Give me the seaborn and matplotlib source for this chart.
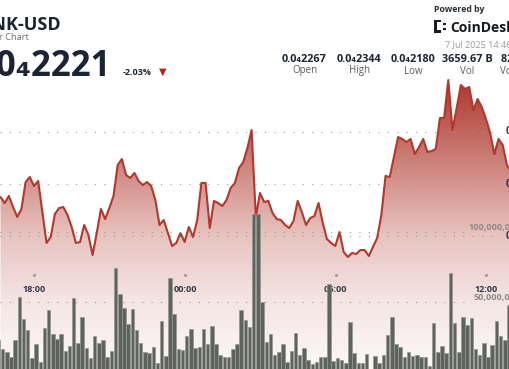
import numpy as np
import matplotlib
matplotlib.use("Agg")
import matplotlib.pyplot as plt
import matplotlib.transforms as mtransforms
from matplotlib.patches import Rectangle
import seaborn as sns

# price line, one point every 10 minutes (minutes counted from 18:00), in units of 1e-5 USD
line_start = -81
price = [
    2.2375, 2.2317, 2.2385, 2.2279, 2.2183, 2.2260, 2.2519, 2.2567, 2.2481, 2.2529,
    2.2231, 2.1933, 2.1990, 2.2212, 2.2269, 2.2279, 2.2202, 2.2087, 2.1933, 2.1942,
    2.2106, 2.2010, 2.1817, 2.2029, 2.2260, 2.2163, 2.2269, 2.2385, 2.2683, 2.2740,
    2.2587, 2.2558, 2.2606, 2.2529, 2.2490, 2.2519, 2.2481, 2.2346, 2.2106, 2.2154,
    2.2029, 2.1904, 2.1933, 2.2029, 2.1942, 2.2087, 2.1990, 2.2154, 2.2510, 2.2510,
    2.2077, 2.2337, 2.2317, 2.2288, 2.2346, 2.2462, 2.2510, 2.2654, 2.2712, 2.2846,
    2.3019, 2.2183, 2.2413, 2.2327, 2.2337, 2.2221, 2.2163, 2.2154, 2.2106, 2.2077,
    2.2144, 2.2337, 2.2231, 2.2106, 2.2173, 2.2192, 2.2317, 2.2125, 2.1971, 2.1933,
    2.1904, 2.2038, 2.1846, 2.1798, 2.1837, 2.1827, 2.1865, 2.1865, 2.1808, 2.1894,
    2.1981, 2.2202, 2.2577, 2.2567, 2.2760, 2.2952, 2.2933, 2.2904, 2.2933, 2.2788,
    2.2856, 2.2933, 2.2808, 2.2817, 2.2837, 2.3135, 2.3135, 2.3500, 2.3019, 2.3231,
    2.3452, 2.3413, 2.3433, 2.3212, 2.3317, 2.3240, 2.3125, 2.2990, 2.2788, 2.2933,
    2.2875, 2.2683, 2.2615,
]

# 10-minute volume bars, billions of BONK
bar_start = -86
volume = [
    22.9, 16.4, 14.3, 10.7, 22.9, 53.6, 37.9, 30.0, 10.0, 20.0,
    7.1, 31.4, 44.3, 27.1, 23.6, 27.1, 15.0, 18.6, 52.9, 20.7,
    39.3, 17.1, 10.0, 25.7, 20.7, 22.9, 10.7, 15.0, 74.3, 55.7,
    45.7, 34.3, 45.0, 30.0, 20.7, 14.3, 13.6, 17.9, 6.4, 36.4,
    11.4, 67.1, 41.4, 16.4, 15.7, 25.7, 30.7, 17.1, 17.9, 30.7,
    20.0, 32.9, 20.0, 12.1, 10.7, 10.7, 16.4, 20.0, 44.3, 37.1,
    32.1, 112.9, 112.9, 50.0, 21.4, 27.1, 12.1, 14.3, 20.0, 7.1,
    15.0, 27.9, 12.1, 17.1, 8.6, 5.7, 7.1, 10.7, 10.7, 62.9,
    7.9, 10.0, 8.6, 6.4, 35.7, 13.6, 6.4, 6.4, 12.9, 0.0,
    11.4, 6.4, 12.1, 26.4, 39.3, 20.0, 17.9, 10.7, 14.3, 11.4,
    12.1, 10.7, 10.7, 4.3, 35.0, 14.3, 18.6, 13.6, 70.7, 35.0,
    14.3, 39.3, 33.6, 38.6, 16.4, 12.1, 20.7, 10.7, 19.3, 36.4,
    25.7, 22.9, 47.9,
]

price_grid = [2.20, 2.25, 2.30]
price_grid_labels = ["0.0₄2200", "0.0₄2250", "0.0₄2300"]
vol_grid = [50, 100]
vol_grid_labels = ["50,000,000,000", "100,000,000,000"]
time_ticks = [0, 360, 720, 1080]
time_labels = ["18:00", "00:00", "06:00", "12:00"]
stat_values = ["0.0₄2267", "0.0₄2344", "0.0₄2180", "3659.67 B", "82.34 M"]
stat_names = ["Open", "High", "Low", "Vol", "Vol (USD)"]

line_t = line_start + 10 * np.arange(len(price))
bar_t = bar_start + 10 * np.arange(len(volume))

W, H = 510, 369
sns.set_theme(style="white")
fam = ["Open Sans", "DejaVu Sans"]
plt.rcParams["font.family"] = fam

fig = plt.figure(figsize=(W / 100, H / 100), dpi=100)
ax = fig.add_axes([0, 0, 1, 1])
ax2 = ax.twinx()

xlim = (-82.2, 1136.4)
ylim = (2.07212, 2.42692)
vlim = (2.14, 265.7)

# gradient fill under the price line
stops_px = [75, 130, 184, 236, 300, 369]
stops_rgb = np.array([(172, 52, 42), (192, 100, 92), (214, 150, 145),
                      (231, 196, 192), (244, 229, 228), (252, 248, 248)]) / 255
rows = np.arange(H)
grad = np.stack([np.interp(rows, stops_px, stops_rgb[:, c]) for c in range(3)], axis=-1)[:, None, :]
fb = ax.fill_between(line_t, price, ylim[0], facecolor="none", edgecolor="none")
img = ax.imshow(grad, extent=[xlim[0], xlim[1], ylim[0], ylim[1]], aspect="auto",
                origin="upper", zorder=1, interpolation="bilinear")
img.set_clip_path(fb.get_paths()[0], ax.transData)

for g in price_grid:
    ax.axhline(g, xmin=0, xmax=497 / W, color="#9c9c9c", lw=0.8, ls=(0, (1, 7.5)), zorder=2)

sns.lineplot(x=line_t, y=price, ax=ax, color="#b5362a", linewidth=1.5, zorder=4)

for g in vol_grid:
    ax2.axhline(g, xmin=0, xmax=468 / W, color="#9c9c9c", lw=0.8, ls=(0, (1, 7.5)), zorder=1)
sns.barplot(x=bar_t, y=volume, ax=ax2, native_scale=True, orient="x", errorbar=None,
            color="#5e635d", saturation=1, width=0.84, edgecolor="#949893",
            linewidth=0.5, zorder=3)

ax.set_xlim(xlim)
ax.set_ylim(ylim)
ax2.set_ylim(vlim)
ax.axis("off")
ax2.axis("off")


def fx(x):
    return x / W


def fy(y):
    return 1 - y / H


# axis labels on the right edge (cut by the frame, as in the source image)
ptrans = mtransforms.blended_transform_factory(fig.transFigure, ax.transData)
for g, lab in zip(price_grid, price_grid_labels):
    ax.text(fx(506), g, lab, transform=ptrans, ha="left", va="center",
            fontsize=7, weight="bold", color="#2b3340", zorder=6)
vtrans = mtransforms.blended_transform_factory(fig.transFigure, ax2.transData)
for g, lab in zip(vol_grid, vol_grid_labels):
    ax2.text(fx(539), g + 3.2, lab, transform=vtrans, ha="right", va="center",
             fontsize=6.6, weight="bold", color="#8f8a88", zorder=6)

# time axis
ttrans = mtransforms.blended_transform_factory(ax.transData, fig.transFigure)
ax.scatter(time_ticks, [fy(275)] * len(time_ticks), transform=ttrans, s=1.5,
           color="#9c9c9c", zorder=5, clip_on=False)
for t, lab in zip(time_ticks, time_labels):
    ax.text(t, fy(289), lab, transform=ttrans, ha="center", va="center",
            fontsize=6.5, weight="bold", color="#333a44", zorder=6)

# header
dark = "#1b2433"
fig.text(fx(61), fy(30), "BONK-USD", ha="right", va="baseline", fontsize=13,
         weight="bold", color=dark)
fig.text(fx(28.5), fy(40), "24 Hour Chart", ha="right", va="baseline", fontsize=6.7,
         color="#6b6f76")
fig.text(fx(111.5), fy(76.5), "0.0₄2221", ha="right", va="baseline", fontsize=25,
         weight="bold", color=dark)
fig.text(fx(123), fy(75), "-2.03%", ha="left", va="baseline", fontsize=6.5,
         weight="bold", color=dark)
fig.text(fx(162.5), fy(72), "▼", ha="center", va="center", fontsize=7,
         color="#b52317", family=["DejaVu Sans"])

stat_x = [304.5, 359, 413.3, 467, 521.3]
for x, v, n in zip(stat_x, stat_values, stat_names):
    fig.text(fx(x), fy(62), v, ha="center", va="baseline", fontsize=7.8,
             weight="bold", color=dark)
    fig.text(fx(x), fy(73.5), n, ha="center", va="baseline", fontsize=7,
             color="#555b63")

fig.text(fx(434), fy(12), "Powered by", ha="left", va="baseline", fontsize=6.3,
         weight="bold", color="#2a2f36")
fig.text(fx(450), fy(32), "CoinDesk", ha="left", va="baseline", fontsize=10,
         weight="bold", color="#16191f")
fig.text(fx(445), fy(47), "7 Jul 2025 14:46", ha="left", va="baseline", fontsize=6.5,
         color="#9a9a9a")

# CoinDesk mark
for (x, y, w, h) in [(434, 19.5, 3, 13), (434, 19.5, 7, 2.6), (434, 29.9, 7, 2.6),
                     (443, 22.5, 2.6, 2.6), (443, 27.5, 2.6, 2.6)]:
    fig.add_artist(Rectangle((fx(x), fy(y + h)), w / W, h / H, transform=fig.transFigure,
                             facecolor="#16191f", edgecolor="none"))

fig.savefig("out.png", dpi=100)
